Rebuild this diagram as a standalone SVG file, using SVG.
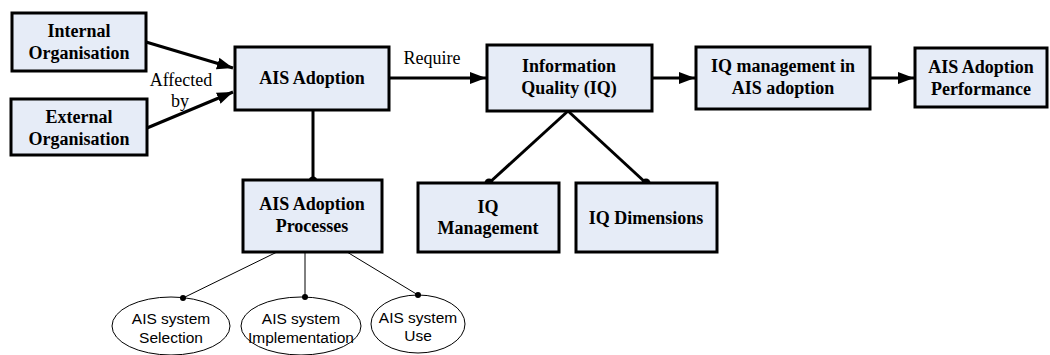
<svg xmlns="http://www.w3.org/2000/svg" width="1050" height="355" viewBox="0 0 1050 355">
<style>
.box{fill:#E6ECF7;stroke:#000;stroke-width:3}
.bt{font-family:"Liberation Serif",serif;font-weight:bold;font-size:18px;text-anchor:middle;fill:#000}
.lt{font-family:"Liberation Serif",serif;font-size:18px;text-anchor:middle;fill:#000}
.el{fill:#fff;stroke:#000;stroke-width:1}
.et{font-family:"Liberation Sans",Arial,sans-serif;font-size:15.5px;text-anchor:middle;fill:#000}
.thick{stroke:#000;stroke-width:3;fill:none}
.thin{stroke:#000;stroke-width:1;fill:none}
</style>
<defs>
<marker id="arr" markerUnits="userSpaceOnUse" markerWidth="17" markerHeight="14" refX="16" refY="7" orient="auto">
<path d="M0,1 L16,7 L0,13 Z" fill="#000"/>
</marker>
</defs>
<rect width="1050" height="355" fill="#fff"/>
<g id="connectors">
<line class="thick" x1="146" y1="42" x2="233" y2="68" marker-end="url(#arr)"/>
<line class="thick" x1="147" y1="128" x2="233" y2="92" marker-end="url(#arr)"/>
<line class="thick" x1="389" y1="78" x2="486" y2="78" marker-end="url(#arr)"/>
<line class="thick" x1="652" y1="78" x2="695" y2="78" marker-end="url(#arr)"/>
<line class="thick" x1="870" y1="78" x2="914" y2="78" marker-end="url(#arr)"/>
<line class="thick" x1="313" y1="110" x2="313" y2="181"/>
<circle cx="313" cy="181" r="4.5" fill="#000"/>
<line class="thick" x1="568" y1="111" x2="489" y2="183"/>
<circle cx="489" cy="183" r="4.5" fill="#000"/>
<line class="thick" x1="568" y1="111" x2="646" y2="183"/>
<circle cx="646" cy="183" r="4.5" fill="#000"/>
<line class="thin" x1="277" y1="252" x2="183" y2="298"/>
<line class="thin" x1="305" y1="252" x2="305" y2="297"/>
<line class="thin" x1="347" y1="252" x2="418" y2="295"/>
<text class="lt" x="181" y="86">Affected</text>
<text class="lt" x="180" y="107">by</text>
<text class="lt" x="432" y="64">Require</text>
</g>
<g id="internal">
<rect class="box" x="12" y="13" width="134" height="58"/>
<text class="bt" x="79" y="37">Internal</text>
<text class="bt" x="79" y="59">Organisation</text>
</g>
<g id="external">
<rect class="box" x="11" y="99" width="136" height="56"/>
<text class="bt" x="79" y="123">External</text>
<text class="bt" x="79" y="145">Organisation</text>
</g>
<g id="ais-adoption">
<rect class="box" x="235" y="47" width="154" height="63"/>
<text class="bt" x="312" y="84">AIS Adoption</text>
</g>
<g id="iq">
<rect class="box" x="487" y="45" width="165" height="66"/>
<text class="bt" x="569" y="72">Information</text>
<text class="bt" x="569" y="94">Quality (IQ)</text>
</g>
<g id="iq-mgmt-ais">
<rect class="box" x="696" y="47" width="174" height="62"/>
<text class="bt" x="783" y="72">IQ management in</text>
<text class="bt" x="783" y="94">AIS adoption</text>
</g>
<g id="performance">
<rect class="box" x="915" y="48" width="132" height="59"/>
<text class="bt" x="981" y="73">AIS Adoption</text>
<text class="bt" x="981" y="95">Performance</text>
</g>
<g id="processes">
<rect class="box" x="243" y="180" width="139" height="72"/>
<text class="bt" x="312" y="210">AIS Adoption</text>
<text class="bt" x="312" y="232">Processes</text>
</g>
<g id="iq-management">
<rect class="box" x="418" y="183" width="141" height="69"/>
<text class="bt" x="488" y="213">IQ</text>
<text class="bt" x="488" y="234">Management</text>
</g>
<g id="iq-dimensions">
<rect class="box" x="576" y="183" width="141" height="69"/>
<text class="bt" x="646" y="224">IQ Dimensions</text>
</g>
<g id="selection">
<ellipse class="el" cx="171" cy="326" rx="59" ry="29"/>
<circle cx="183" cy="298" r="3" fill="#000"/>
<text class="et" x="171" y="324">AIS system</text>
<text class="et" x="171" y="343">Selection</text>
</g>
<g id="implementation">
<ellipse class="el" cx="301" cy="326" rx="60" ry="29"/>
<circle cx="305" cy="297" r="3" fill="#000"/>
<text class="et" x="301" y="324">AIS system</text>
<text class="et" x="301" y="343">Implementation</text>
</g>
<g id="use">
<ellipse class="el" cx="418" cy="324" rx="47" ry="29"/>
<circle cx="418" cy="295" r="3" fill="#000"/>
<text class="et" x="418" y="323">AIS system</text>
<text class="et" x="418" y="341">Use</text>
</g>
</svg>
